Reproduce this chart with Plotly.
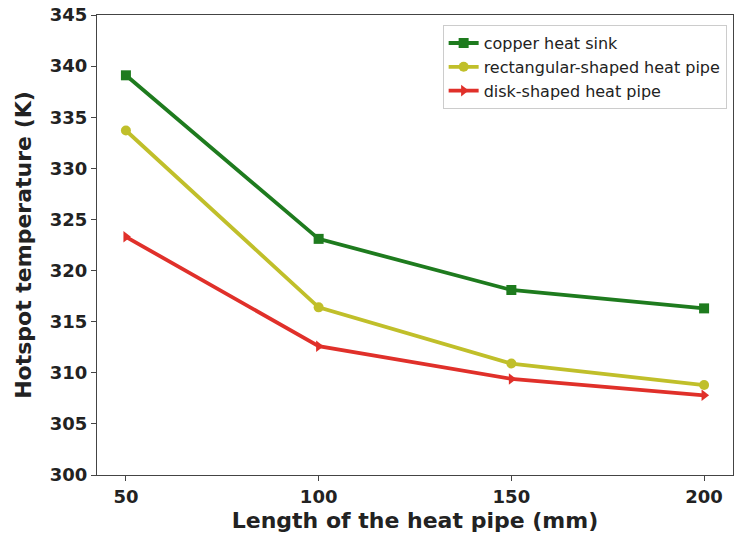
import plotly.graph_objects as go

lengths = [50, 100, 150, 200]
copper = [339.1, 323.1, 318.1, 316.3]
rect_pipe = [333.7, 316.4, 310.9, 308.8]
disk_pipe = [323.3, 312.6, 309.4, 307.8]

series = [
    ("copper heat sink", copper, "#1e7b1e", "square"),
    ("rectangular-shaped heat pipe", rect_pipe, "#c0bf2a", "circle"),
    ("disk-shaped heat pipe", disk_pipe, "#e0302a", "triangle-right"),
]

fig = go.Figure()
for name, vals, color, sym in series:
    fig.add_trace(go.Scatter(
        x=lengths, y=vals, name=name, mode="lines+markers",
        line=dict(color=color, width=3.8),
        marker=dict(color=color, symbol=sym, size=10),
    ))

axis_common = dict(
    showline=True, linecolor="#444444", linewidth=1.2, mirror=True,
    ticks="outside", ticklen=5, tickcolor="#444444", showgrid=False, zeroline=False,
    tickfont=dict(family="DejaVu Sans", size=18, color="#222222", weight="bold"),
)

fig.update_layout(
    width=736, height=542,
    margin=dict(l=97, r=3, t=15, b=67),
    plot_bgcolor="white", paper_bgcolor="white",
    xaxis=dict(range=[42.5, 207.5], tickvals=[50, 100, 150, 200],
               title=dict(text="<b>Length of the heat pipe (mm)</b>", standoff=6,
                          font=dict(family="DejaVu Sans", size=22, color="#222222")),
               **axis_common),
    yaxis=dict(range=[300, 345], dtick=5,
               title=dict(text="<b>Hotspot temperature (K)</b>", standoff=12,
                          font=dict(family="DejaVu Sans", size=22, color="#222222")),
               **axis_common),
    legend=dict(x=0.99, y=0.978, xanchor="right", yanchor="top",
                bgcolor="white", bordercolor="#cccccc", borderwidth=1,
                font=dict(family="DejaVu Sans", size=16, color="#222222"),
                itemwidth=30, tracegroupgap=0),
    showlegend=True,
)

fig.write_html("out.html")
